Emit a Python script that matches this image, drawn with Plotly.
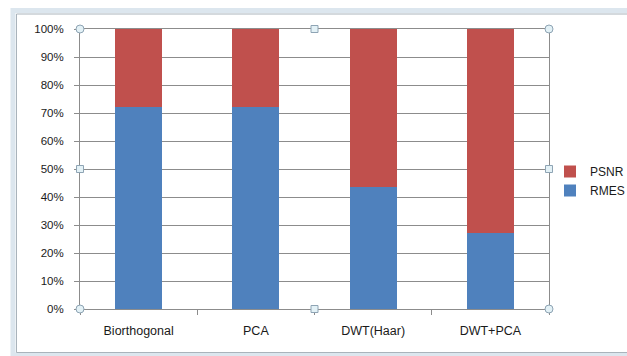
import plotly.graph_objects as go

categories = ["Biorthogonal", "PCA", "DWT(Haar)", "DWT+PCA"]
rmes = [72.2, 72.0, 43.4, 27.2]
psnr = [27.8, 28.0, 56.6, 72.8]
y_ticks = [0, 10, 20, 30, 40, 50, 60, 70, 80, 90, 100]
y_tick_labels = [f"{v}%" for v in y_ticks]

W, H = 627, 356
L, R, T, B = 80, 78, 29, 47
PW, PH = W - L - R, H - T - B

fig = go.Figure()
fig.add_trace(go.Bar(name="RMES", x=categories, y=rmes, marker=dict(color="#4F81BD", line=dict(width=0)), width=0.4))
fig.add_trace(go.Bar(name="PSNR", x=categories, y=psnr, marker=dict(color="#C0504D", line=dict(width=0)), width=0.4))

font = dict(family="Liberation Sans, Arial, sans-serif", size=11.5, color="#1a1a1a")
xfont = dict(family="Liberation Sans, Arial, sans-serif", size=12.5, color="#1a1a1a")


def px(x):
    return (x - L) / PW


def py(y):
    return (H - B - y) / PH


shapes = []
# outer chart frame (Excel-like)
shapes.append(dict(type="rect", xref="paper", yref="paper", x0=px(13), x1=px(660), y0=py(355), y1=py(10.5),
                   line=dict(color="#dce6ee", width=5), layer="above"))
shapes.append(dict(type="rect", xref="paper", yref="paper", x0=px(16.5), x1=px(660), y0=py(352.5), y1=py(14),
                   line=dict(color="#a9b3bb", width=1), layer="above"))

# selection handles on plot area
px0, px1 = L, W - R
py0, py1 = T, H - B
pmx, pmy = (px0 + px1) / 2, (py0 + py1) / 2
for (cx, cy) in [(px0, py0), (px1, py0), (px0, py1), (px1, py1)]:
    shapes.append(dict(type="circle", xref="paper", yref="paper",
                       x0=px(cx - 4), x1=px(cx + 4), y0=py(cy + 4), y1=py(cy - 4),
                       fillcolor="#e3f1f6", line=dict(color="#8ea4b4", width=1), layer="above"))
for (cx, cy) in [(pmx, py0), (pmx, py1), (px0, pmy), (px1, pmy)]:
    shapes.append(dict(type="rect", xref="paper", yref="paper",
                       x0=px(cx - 3.5), x1=px(cx + 3.5), y0=py(cy + 3.5), y1=py(cy - 3.5),
                       fillcolor="#e3f1f6", line=dict(color="#8ea4b4", width=1), layer="above"))

fig.update_layout(
    barmode="stack",
    width=W, height=H,
    margin=dict(l=L, r=R, t=T, b=B, autoexpand=False),
    paper_bgcolor="white", plot_bgcolor="white",
    font=font,
    showlegend=True,
    legend=dict(x=px(550), y=py(157), xanchor="left", yanchor="top",
                traceorder="reversed", font=dict(family="Liberation Sans, Arial, sans-serif", size=12, color="#1a1a1a"),
                itemwidth=30, tracegroupgap=0, bgcolor="rgba(0,0,0,0)"),
    xaxis=dict(showline=True, linecolor="#8c8c8c", linewidth=1, mirror=True,
               ticks="outside", tickson="boundaries", ticklen=5, tickcolor="#8c8c8c",
               ticklabelstandoff=10,
               showgrid=False, tickfont=xfont, fixedrange=True),
    yaxis=dict(range=[0, 100], tickvals=y_ticks, ticktext=y_tick_labels,
               showline=True, linecolor="#8c8c8c", linewidth=1, mirror=True,
               ticks="outside", ticklen=5, tickcolor="#8c8c8c",
               ticklabelstandoff=8,
               showgrid=True, gridcolor="#8c8c8c", gridwidth=1,
               zeroline=False, tickfont=font, fixedrange=True),
    shapes=shapes,
    bargap=0.6,
)

fig.write_html("out.html")
